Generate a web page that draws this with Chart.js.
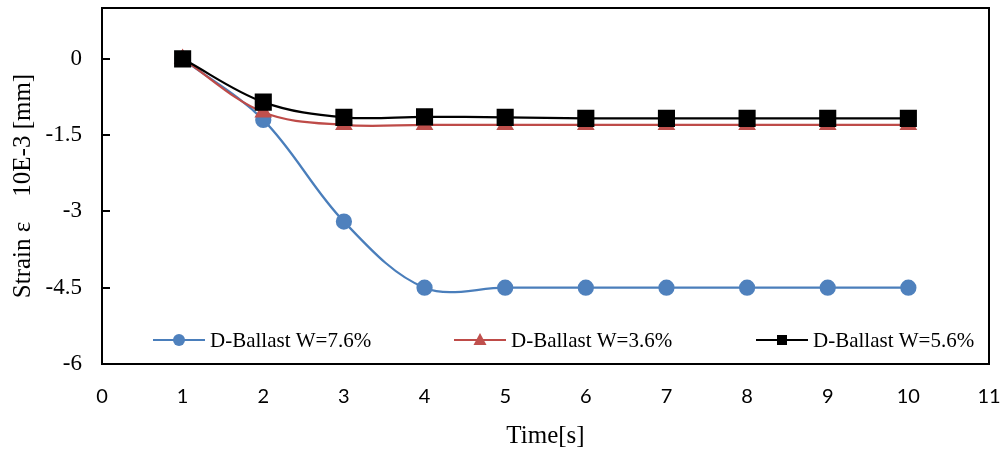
<!DOCTYPE html>
<html>
<head>
<meta charset="utf-8">
<title>Strain vs Time</title>
<script src="https://cdn.jsdelivr.net/npm/chart.js@4.4.1/dist/chart.umd.min.js"></script>
<style>
  html, body { margin: 0; padding: 0; background: #fff; }
  #wrap { width: 1006px; height: 455px; position: relative; }
</style>
</head>
<body>
<div id="wrap"><canvas id="strainChart"></canvas></div>
<script>
// Measured strain for the three ballast moisture contents
const timeSteps = [1, 2, 3, 4, 5, 6, 7, 8, 9, 10];
const strainW76 = [0, -1.2, -3.2, -4.5, -4.5, -4.5, -4.5, -4.5, -4.5, -4.5];
const strainW36 = [0, -1.05, -1.3, -1.3, -1.3, -1.3, -1.3, -1.3, -1.3, -1.3];
const strainW56 = [0, -0.85, -1.15, -1.14, -1.15, -1.17, -1.17, -1.17, -1.17, -1.17];
const seriesLabels = ['D-Ballast W=7.6%', 'D-Ballast W=3.6%', 'D-Ballast W=5.6%'];
const yTickValues = [-6, -4.5, -3, -1.5, 0];

const SERIF = '"Liberation Serif", "Times New Roman", serif';

function toPoints(values) {
    return timeSteps.map((t, i) => ({ x: t, y: values[i] }));
}

// Plot frame with short inward tick marks on the y axis
const framePlugin = {
    id: 'frame',
    afterDatasetsDraw(chart) {
        const { ctx, chartArea: a, scales: { y } } = chart;
        ctx.save();
        ctx.strokeStyle = '#000';
        ctx.lineWidth = 2;
        ctx.strokeRect(a.left, a.top, a.right - a.left, a.bottom - a.top);
        ctx.beginPath();
        y.ticks.forEach((t) => {
            const py = Math.round(y.getPixelForValue(t.value));
            ctx.moveTo(a.left, py);
            ctx.lineTo(a.left + 8, py);
        });
        ctx.stroke();
        ctx.restore();
    }
};

// Legend drawn inside the plot, along the bottom edge
const legendOffsets = [51, 352, 654];
const legendPlugin = {
    id: 'insideLegend',
    afterDraw(chart) {
        const { ctx, chartArea: a } = chart;
        const cy = a.bottom - 24;
        ctx.save();
        chart.data.datasets.forEach((ds, i) => {
            const x0 = a.left + legendOffsets[i];
            const mx = x0 + 26;
            ctx.strokeStyle = ds.borderColor;
            ctx.lineWidth = 2;
            ctx.beginPath();
            ctx.moveTo(x0, cy);
            ctx.lineTo(x0 + 52, cy);
            ctx.stroke();

            ctx.fillStyle = ds.pointBackgroundColor;
            ctx.beginPath();
            if (ds.pointStyle === 'circle') {
                ctx.arc(mx, cy, 6, 0, Math.PI * 2);
            } else if (ds.pointStyle === 'triangle') {
                ctx.moveTo(mx, cy - 7);
                ctx.lineTo(mx + 6.5, cy + 5);
                ctx.lineTo(mx - 6.5, cy + 5);
                ctx.closePath();
            } else {
                ctx.rect(mx - 5, cy - 5, 10, 10);
            }
            ctx.fill();

            ctx.fillStyle = '#000';
            ctx.font = '21px ' + SERIF;
            ctx.textBaseline = 'middle';
            ctx.textAlign = 'left';
            ctx.fillText(ds.label, x0 + 57, cy + 1);
        });
        ctx.restore();
    }
};

const ctx = document.getElementById('strainChart').getContext('2d');
new Chart(ctx, {
    type: 'line',
    data: {
        datasets: [
            {
                label: seriesLabels[0],
                data: toPoints(strainW76),
                borderColor: '#4A7EBB',
                backgroundColor: '#4F81BD',
                pointBackgroundColor: '#4F81BD',
                pointBorderColor: '#4F81BD',
                pointStyle: 'circle',
                pointRadius: 7,
                borderWidth: 2.25,
                order: 3
            },
            {
                label: seriesLabels[1],
                data: toPoints(strainW36),
                borderColor: '#BE4B48',
                backgroundColor: '#C0504D',
                pointBackgroundColor: '#C0504D',
                pointBorderColor: '#C0504D',
                pointStyle: 'triangle',
                pointRadius: 8,
                borderWidth: 2.25,
                order: 2
            },
            {
                label: seriesLabels[2],
                data: toPoints(strainW56),
                borderColor: '#000000',
                backgroundColor: '#000000',
                pointBackgroundColor: '#000000',
                pointBorderColor: '#000000',
                pointStyle: 'rect',
                pointRadius: 10.5,
                borderWidth: 2.25,
                order: 1
            }
        ]
    },
    options: {
        responsive: true,
        maintainAspectRatio: false,
        animation: false,
        devicePixelRatio: 1,
        layout: {
            autoPadding: false,
            padding: { left: 0, right: 17, top: 8, bottom: 0 }
        },
        elements: {
            line: { tension: 0.35, fill: false },
            point: { borderWidth: 1 }
        },
        plugins: {
            legend: { display: false },
            tooltip: { enabled: false }
        },
        scales: {
            x: {
                type: 'linear',
                min: 0,
                max: 11,
                ticks: {
                    stepSize: 1,
                    padding: 21,
                    color: '#000',
                    font: { family: 'Lato, "Open Sans", sans-serif', size: 20 }
                },
                grid: { display: false, drawTicks: false },
                border: { display: false },
                title: {
                    display: true,
                    text: 'Time[s]',
                    color: '#000',
                    font: { family: SERIF, size: 25 },
                    padding: { top: 0, bottom: 4 }
                },
                afterFit(scale) {
                    scale.height = 91;
                    scale.paddingLeft = 0;
                    scale.paddingRight = 0;
                }
            },
            y: {
                type: 'linear',
                min: -6,
                max: 1,
                afterBuildTicks(scale) {
                    scale.ticks = yTickValues.map((v) => ({ value: v }));
                },
                ticks: {
                    padding: 20,
                    color: '#000',
                    font: { family: SERIF, size: 23 }
                },
                grid: { display: false, drawTicks: false },
                border: { display: false },
                title: {
                    display: true,
                    text: 'Strain ε    10E-3 [mm]',
                    color: '#000',
                    font: { family: SERIF, size: 25 },
                    padding: { top: 8, bottom: 0 }
                },
                afterFit(scale) {
                    scale.width = 102;
                    scale.paddingTop = 0;
                    scale.paddingBottom = 0;
                }
            }
        }
    },
    plugins: [framePlugin, legendPlugin]
});
</script>
</body>
</html>
